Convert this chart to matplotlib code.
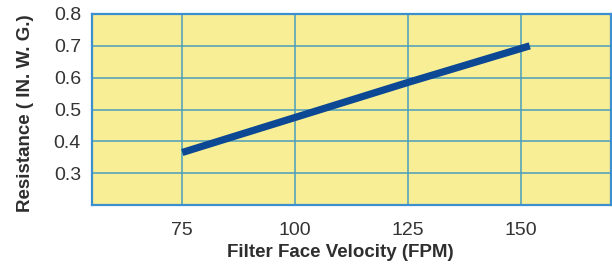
import matplotlib
matplotlib.use("Agg")
import matplotlib.pyplot as plt

# filter resistance curve
velocity = [75, 100, 125, 152]
resistance = [0.365, 0.475, 0.585, 0.70]
x_ticks = [75, 100, 125, 150]
y_ticks = [0.3, 0.4, 0.5, 0.6, 0.7, 0.8]

plt.rcParams['font.family'] = ['Liberation Sans', 'DejaVu Sans']

fig = plt.figure(figsize=(6.12, 2.66), dpi=100)
ax = fig.add_axes([92/612, 1-205/266, 519/612, 191/266])
ax.set_facecolor("#F8EE96")
ax.plot(velocity, resistance, color="#0C4893", linewidth=5.2, solid_capstyle="butt")

ax.set_xlim(55, 170)
ax.set_ylim(0.2, 0.8)
ax.set_xticks(x_ticks)
ax.set_yticks(y_ticks)
ax.set_yticklabels(["%.1f" % v for v in y_ticks])
ax.grid(True, color="#4A9EBE", linewidth=1.1)
ax.set_axisbelow(True)
for s in ax.spines.values():
    s.set_color("#3C8FCF")
    s.set_linewidth(1.6)
ax.tick_params(length=0, labelsize=14, labelcolor="#333333", pad=8)
ax.tick_params(axis="x", pad=12)

ax.set_xlabel("Filter Face Velocity (FPM)", fontsize=13.5, fontweight="bold", color="#2e2e2e")
ax.set_ylabel("Resistance ( IN. W. G.)", fontsize=13.5, fontweight="bold", color="#2e2e2e")
# label is a bit left of the axes centre in the original
ax.xaxis.set_label_coords(0.478, -0.205)
ax.yaxis.set_label_coords(-0.111, 0.48)

fig.savefig("out.png", dpi=100)
